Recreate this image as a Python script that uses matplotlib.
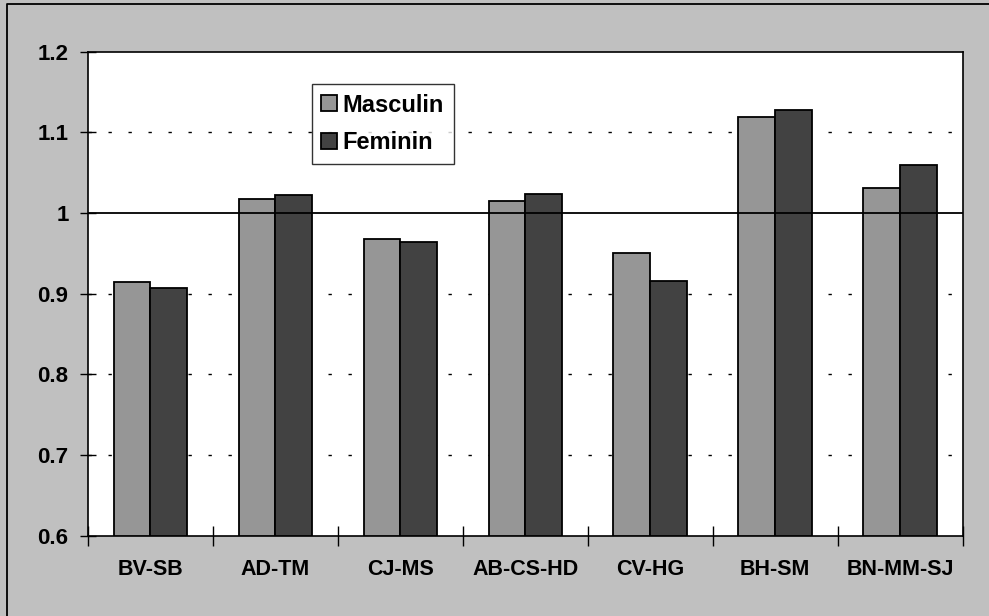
import numpy as np
import matplotlib
matplotlib.use('Agg')
import matplotlib.pyplot as plt
from matplotlib.lines import Line2D

categories = ['BV-SB', 'AD-TM', 'CJ-MS', 'AB-CS-HD', 'CV-HG', 'BH-SM', 'BN-MM-SJ']
masculin = [0.914, 1.017, 0.968, 1.015, 0.950, 1.119, 1.031]
feminin = [0.907, 1.022, 0.964, 1.024, 0.916, 1.128, 1.060]
series_labels = ['Masculin', 'Feminin']

plt.rcParams['font.family'] = ['Liberation Sans', 'DejaVu Sans']
plt.rcParams['font.weight'] = 'bold'

fig = plt.figure(figsize=(9.89, 6.16), dpi=100, facecolor='#c0c0c0')
ax = fig.add_axes([88 / 989, (616 - 535.7) / 616, 874.5 / 989, 484 / 616])
ax.set_facecolor('white')

index = np.arange(len(categories))
bar_width = 0.294

ax.bar(index - bar_width / 2, np.array(masculin) - 0.6, bar_width, bottom=0.6,
       color='#969696', edgecolor='black', linewidth=1.3, label=series_labels[0], zorder=3)
ax.bar(index + bar_width / 2, np.array(feminin) - 0.6, bar_width, bottom=0.6,
       color='#424242', edgecolor='black', linewidth=1.3, label=series_labels[1], zorder=3)

ax.set_xlim(-0.5, len(categories) - 0.5)
ax.set_ylim(0.6, 1.2)

# dashed gridlines + solid reference line at 1
for v in [0.7, 0.8, 0.9, 1.1]:
    ax.axhline(v, color='black', linewidth=1.0, dashes=(2.4, 12), zorder=1)
ax.axhline(1.0, color='black', linewidth=1.3, zorder=4)

ax.set_yticks(np.arange(0.6, 1.21, 0.1))
ax.set_yticklabels(['0.6', '0.7', '0.8', '0.9', '1', '1.1', '1.2'])
ax.tick_params(axis='y', direction='inout', length=12, width=1, labelsize=16, pad=8)

ax.set_xticks(np.arange(-0.5, len(categories), 1.0))
ax.set_xticklabels([])
ax.set_xticks(index, minor=True)
ax.set_xticklabels(categories, minor=True)
ax.tick_params(axis='x', which='major', direction='inout', length=15, width=1)
ax.tick_params(axis='x', which='minor', length=0, labelsize=15.5, pad=17)

for s in ax.spines.values():
    s.set_linewidth(1.2)
    s.set_color('black')

leg = ax.legend(loc='upper left', bbox_to_anchor=(0.256, 0.933), borderaxespad=0,
                fancybox=False, frameon=True, fontsize=17, handlelength=0.66,
                handleheight=0.66, handletextpad=0.25, labelspacing=0.62,
                borderpad=0.4)
leg.get_frame().set_edgecolor('black')
leg.get_frame().set_linewidth(1.0)
leg.set_zorder(5)

# outer frame (only top and left visible)
fig.add_artist(Line2D([7 / 989, 7 / 989, 1], [0, 1 - 4 / 616, 1 - 4 / 616],
                      transform=fig.transFigure, color='black', linewidth=1.3))

fig.savefig('out.png', dpi=100, facecolor=fig.get_facecolor())
